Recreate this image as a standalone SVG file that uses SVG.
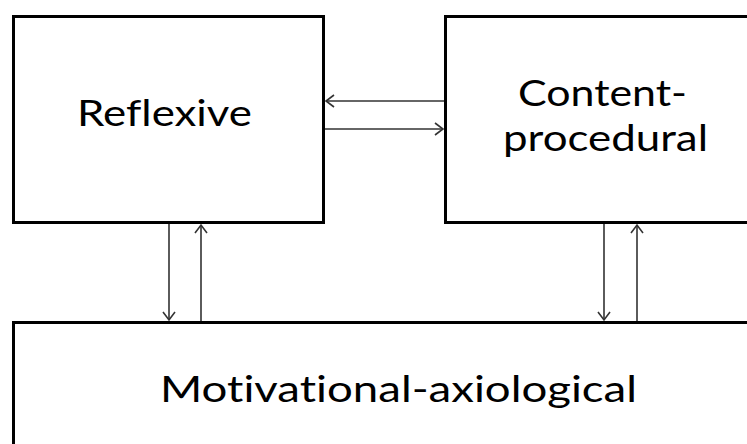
<svg xmlns="http://www.w3.org/2000/svg" width="747" height="444" viewBox="0 0 747 444">
<style>
.box{fill:#fff;stroke:#000;stroke-width:3}
.lbl{font-family:Lato,"Open Sans","Noto Sans",sans-serif;font-size:37px;fill:#000;font-variant-ligatures:none;font-feature-settings:"liga" 0,"dlig" 0}
.con{stroke:#333;stroke-width:1.6;fill:none;marker-end:url(#ah)}
</style>
<defs>
<marker id="ah" markerUnits="userSpaceOnUse" markerWidth="14" markerHeight="14" refX="10" refY="7" orient="auto">
<path d="M2,1 L10,7 L2,13" fill="none" stroke="#333" stroke-width="1.6"/>
</marker>
</defs>
<rect width="747" height="444" fill="#fff"/>
<g id="reflexive">
<rect class="box" x="13.5" y="16.5" width="310" height="206"/>
<text class="lbl" x="77" y="126" textLength="175" lengthAdjust="spacingAndGlyphs">Reflexive</text>
</g>
<g id="content-procedural">
<rect class="box" x="445.5" y="16.5" width="320" height="206"/>
<text class="lbl"><tspan x="518" y="106" textLength="169" lengthAdjust="spacingAndGlyphs">Content-</tspan><tspan x="503" y="151" textLength="205" lengthAdjust="spacingAndGlyphs">procedural</tspan></text>
</g>
<g id="motivational-axiological">
<rect class="box" x="13.5" y="322.5" width="760" height="200"/>
<text class="lbl" x="160" y="402" textLength="477" lengthAdjust="spacingAndGlyphs">Motivational-axiological</text>
</g>
<g id="connectors">
<line class="con" x1="444" y1="101" x2="326" y2="101"/>
<line class="con" x1="325" y1="129" x2="443" y2="129"/>
<line class="con" x1="169" y1="224" x2="169" y2="320"/>
<line class="con" x1="201" y1="321" x2="201" y2="225"/>
<line class="con" x1="604" y1="224" x2="604" y2="320"/>
<line class="con" x1="637" y1="321" x2="637" y2="225"/>
</g>
</svg>
